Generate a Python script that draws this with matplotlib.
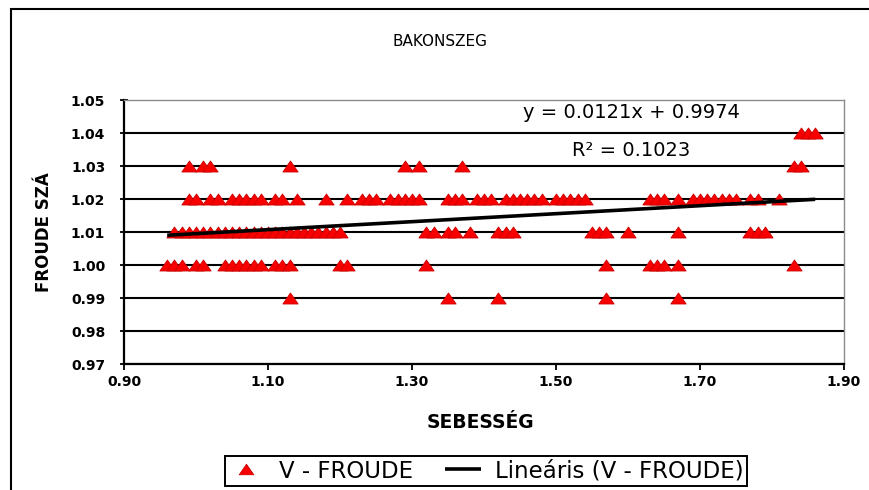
import numpy as np
import matplotlib
matplotlib.use("Agg")
import matplotlib.pyplot as plt
from matplotlib.path import Path
from matplotlib.patches import Rectangle

# ---- data (x = SEBESSÉG, grouped by FROUDE value) ----
speed_at_104 = [1.84, 1.85, 1.86]
speed_at_103 = [0.99, 1.01, 1.02, 1.13, 1.29, 1.31, 1.37, 1.83, 1.84]
speed_at_102 = [0.99, 1.00, 1.02, 1.03, 1.05, 1.06, 1.07, 1.08, 1.09, 1.11, 1.12,
                1.14, 1.18, 1.21, 1.23, 1.24, 1.25, 1.27, 1.28, 1.29, 1.30, 1.31,
                1.35, 1.36, 1.37, 1.39, 1.40, 1.41, 1.43, 1.44, 1.45, 1.46, 1.47,
                1.48, 1.50, 1.51, 1.52, 1.53, 1.54, 1.63, 1.64, 1.65, 1.67, 1.69,
                1.70, 1.71, 1.72, 1.73, 1.74, 1.75, 1.77, 1.78, 1.81]
speed_at_101 = [0.97, 0.98, 0.99, 1.00, 1.01, 1.02, 1.03, 1.04, 1.05, 1.06, 1.07,
                1.08, 1.09, 1.10, 1.11, 1.12, 1.13, 1.14, 1.15, 1.16, 1.17, 1.18,
                1.19, 1.20, 1.32, 1.33, 1.35, 1.36, 1.38, 1.42, 1.43, 1.44, 1.55,
                1.56, 1.57, 1.60, 1.67, 1.77, 1.78, 1.79]
speed_at_100 = [0.96, 0.97, 0.98, 1.00, 1.01, 1.04, 1.05, 1.06, 1.07, 1.08, 1.09,
                1.11, 1.12, 1.13, 1.20, 1.21, 1.32, 1.57, 1.63, 1.64, 1.65, 1.67,
                1.83]
speed_at_099 = [1.13, 1.35, 1.42, 1.57, 1.67]

froude_levels = [1.04, 1.03, 1.02, 1.01, 1.00, 0.99]

trend_slope = 0.0121
trend_intercept = 0.9974
trend_r2 = 0.1023

x_ticks = [0.90, 1.10, 1.30, 1.50, 1.70, 1.90]
x_tick_labels = ["0.90", "1.10", "1.30", "1.50", "1.70", "1.90"]
y_ticks = [0.97, 0.98, 0.99, 1.00, 1.01, 1.02, 1.03, 1.04, 1.05]
y_tick_labels = ["0.97", "0.98", "0.99", "1.00", "1.01", "1.02", "1.03", "1.04", "1.05"]

title = "BAKONSZEG"
x_title = "SEBESSÉG"
y_title = "FROUDE SZÁ"
series_name = "V - FROUDE"
trend_name = "Lineáris (V - FROUDE)"

# ---- assemble ----
rows = [speed_at_104, speed_at_103, speed_at_102, speed_at_101, speed_at_100, speed_at_099]
speed = np.concatenate([np.asarray(r, float) for r in rows])
froude = np.concatenate([np.full(len(r), lvl) for r, lvl in zip(rows, froude_levels)])

plt.rcParams["font.family"] = ["DejaVu Sans"]

W, H = 870, 490
fig = plt.figure(figsize=(W / 100, H / 100), dpi=100)
fig.patch.set_facecolor("white")

# outer chart frame (cropped on right/bottom in the reference)
fig.patches.append(Rectangle((11 / W, -0.1), 1.2, 1 - 9 / H + 0.1,
                             transform=fig.transFigure, fill=False,
                             edgecolor="black", linewidth=1.5))

ax = fig.add_axes([124 / W, 1 - 364 / H, 720 / W, 264 / H])

tri = Path([(-1.0, -0.72), (1.0, -0.72), (0.0, 0.72), (-1.0, -0.72)],
           [Path.MOVETO, Path.LINETO, Path.LINETO, Path.CLOSEPOLY])

ax.plot(speed, froude, linestyle="none", marker=tri, markersize=11,
        markerfacecolor="#F80000", markeredgecolor="#CC0000", markeredgewidth=0.6,
        label=series_name, zorder=3)

xs = np.array([speed.min(), speed.max()])
ax.plot(xs, trend_slope * xs + trend_intercept, color="black", linewidth=2.6,
        label=trend_name, zorder=4, solid_capstyle="butt")

ax.set_xlim(0.90, 1.90)
ax.set_ylim(0.97, 1.05)
ax.set_xticks(x_ticks)
ax.set_xticklabels(x_tick_labels)
ax.set_yticks(y_ticks)
ax.set_yticklabels(y_tick_labels)

ax.yaxis.grid(True, color="black", linewidth=1.5)
ax.set_axisbelow(True)
ax.get_ygridlines()[-1].set_visible(False)

for s in ("top", "right"):
    ax.spines[s].set_color("#8c8c8c")
    ax.spines[s].set_linewidth(1.0)
for s in ("left", "bottom"):
    ax.spines[s].set_color("black")
    ax.spines[s].set_linewidth(1.6)

ax.tick_params(axis="y", direction="inout", length=6, width=1.3, pad=10.5,
               labelsize=10)
ax.tick_params(axis="x", direction="out", length=4, width=1.3, pad=4,
               labelsize=10)
for lab in ax.get_xticklabels() + ax.get_yticklabels():
    lab.set_fontweight("bold")

ax.set_title(title, fontsize=11, x=(440 - 124) / 720, y=1 + (100 - 42) / 264,
             va="center", pad=0)
ax.set_xlabel(x_title, fontsize=13.5, fontweight="bold", va="center")
ax.xaxis.set_label_coords((480 - 124) / 720, (364 - 422) / 264)
ax.set_ylabel(y_title, fontsize=12, fontweight="bold", va="center")
ax.yaxis.set_label_coords((44 - 124) / 720, 0.5)

ax.text((631 - 124) / 720, 1 - (113 - 100) / 264,
        f"y = {trend_slope:.4f}x + {trend_intercept:.4f}",
        transform=ax.transAxes, ha="center", va="center", fontsize=14)
ax.text((631 - 124) / 720, 1 - (150 - 100) / 264,
        f"R² = {trend_r2:.4f}",
        transform=ax.transAxes, ha="center", va="center", fontsize=14)

leg = ax.legend(loc="center", bbox_to_anchor=(486 / W, 1 - 471 / H),
                bbox_transform=fig.transFigure, ncol=2, frameon=True,
                fancybox=False, edgecolor="black", framealpha=1, fontsize=16.5,
                handlelength=1.6, handletextpad=0.6, columnspacing=1.4,
                borderpad=0.15, borderaxespad=0, markerscale=0.95)
leg.get_frame().set_linewidth(1.4)

fig.savefig("out.png", dpi=100, facecolor="white")
